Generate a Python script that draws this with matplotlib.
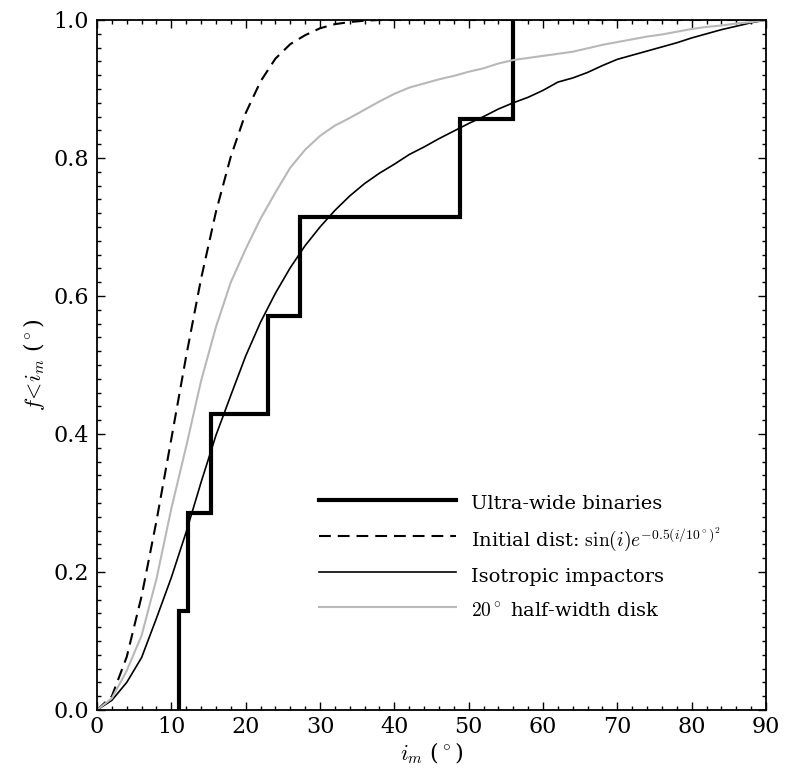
import matplotlib
matplotlib.use("Agg")
import matplotlib.pyplot as plt
from matplotlib.ticker import MultipleLocator

plt.rcParams['font.family'] = 'serif'
plt.rcParams['font.serif'] = ['DejaVu Serif']
plt.rcParams['mathtext.fontset'] = 'cm'
plt.rcParams['lines.scale_dashes'] = False

# Ultra-wide binaries (step CDF)
uwb_x = [11.0, 11.0, 12.2, 15.3, 23.0, 27.3, 48.9, 55.9]
uwb_y = [0.0, 1/7, 2/7, 3/7, 4/7, 5/7, 6/7, 1.0]

# Initial distribution CDF
init_x = [0, 2, 4, 6, 8, 10, 12, 14, 16, 18, 20, 22, 24, 26, 28, 30, 32, 34, 36, 38, 40, 90]
init_y = [0, 0.02, 0.077, 0.165, 0.274, 0.393, 0.513, 0.625, 0.722, 0.802, 0.865, 0.911,
          0.944, 0.965, 0.978, 0.988, 0.994, 0.997, 0.999, 1.0, 1.0, 1.0]

# Isotropic impactors
grid_x = list(range(0, 92, 2))
iso_y = [0, 0.014, 0.04, 0.076, 0.133, 0.192, 0.258, 0.33, 0.398, 0.456, 0.513, 0.562,
         0.604, 0.641, 0.673, 0.700, 0.724, 0.745, 0.763, 0.778, 0.791, 0.805, 0.816,
         0.828, 0.839, 0.850, 0.860, 0.871, 0.880, 0.888, 0.898, 0.910, 0.916, 0.924,
         0.934, 0.943, 0.949, 0.955, 0.961, 0.967, 0.974, 0.980, 0.986, 0.991, 0.996, 1.0]

# 20 deg half-width disk
disk_y = [0, 0.017, 0.057, 0.108, 0.19, 0.292, 0.382, 0.477, 0.555, 0.62, 0.668, 0.712,
          0.75, 0.786, 0.812, 0.832, 0.847, 0.858, 0.870, 0.882, 0.893, 0.902, 0.908,
          0.914, 0.919, 0.925, 0.930, 0.937, 0.942, 0.945, 0.948, 0.951, 0.954, 0.959,
          0.964, 0.968, 0.972, 0.976, 0.979, 0.983, 0.987, 0.990, 0.992, 0.995, 0.997, 1.0]

fig = plt.figure(figsize=(7.86, 7.74), dpi=100)
ax = fig.add_axes([97/786, 64/774, 669/786, 690/774])

ax.plot(uwb_x, uwb_y, drawstyle='steps-post', color='black', lw=3.0,
        label='Ultra-wide binaries', solid_joinstyle='miter')
ax.plot(init_x, init_y, color='black', lw=1.5, dashes=(8.5, 5),
        label=r'Initial dist: $\sin(i)e^{-0.5(i/10^\circ)^2}$')
ax.plot(grid_x, iso_y, color='black', lw=1.2, label='Isotropic impactors')
ax.plot(grid_x, disk_y, color='0.72', lw=1.5, label=r'$20^\circ$ half-width disk')

ax.set_xlim(0, 90)
ax.set_ylim(0, 1.0)
ax.xaxis.set_major_locator(MultipleLocator(10))
ax.xaxis.set_minor_locator(MultipleLocator(2))
ax.yaxis.set_major_locator(MultipleLocator(0.2))
ax.yaxis.set_minor_locator(MultipleLocator(0.02))
ax.tick_params(which='both', direction='in', top=True, right=True, labelsize=16)
ax.tick_params(which='major', length=6, width=1)
ax.tick_params(which='minor', length=3, width=1)
ax.tick_params(axis='y', pad=6)
ax.tick_params(axis='x', pad=4)
for s in ax.spines.values():
    s.set_linewidth(1.3)

ax.set_xlabel(r'$i_m$ ($^\circ$)', fontsize=16, labelpad=2)
ax.set_ylabel(r'$f\!<\!i_m$ ($^\circ$)', fontsize=16, labelpad=4)

leg = ax.legend(loc='upper left', bbox_to_anchor=(0.305, 0.344), frameon=False,
                fontsize=14, handlelength=7.05, handletextpad=0.8, labelspacing=0.48,
                handleheight=1.68)

fig.savefig('out.png', dpi=100)
